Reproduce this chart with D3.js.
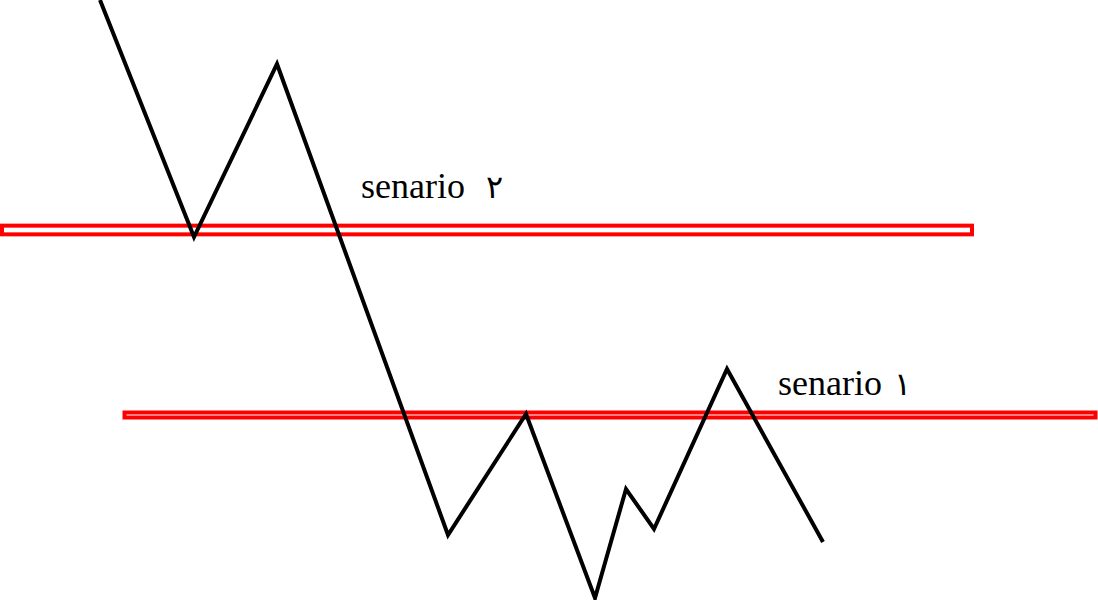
<!DOCTYPE html>
<html>
<head>
<meta charset="utf-8">
<script src="https://cdn.jsdelivr.net/npm/d3@7"></script>
<style>
  html, body { margin: 0; padding: 0; background: #fff; }
  svg { display: block; }
  .label { font-family: "Liberation Serif", "Times New Roman", serif; }
</style>
</head>
<body>
<svg id="chart" width="1098" height="600"></svg>
<script>
// ---- data ----
const pathX = [100, 194, 277, 448, 526, 595, 626, 654, 727, 823];
const pathY = [600, 363, 536, 65, 186, 2, 111, 71, 231, 58];

const levelNames = ["senario", "senario"];
const levelDigits = ["\u06F1", "\u06F2"];
const levelValues = [185, 370];
const levelStart = [124.5, 2];
const levelEnd = [1095.5, 972];
const levelThickness = [5, 8.7];
const labelX = [778, 361];
const labelLevel = [205, 402];

// ---- scales ----
const W = 1098, H = 600;
const x = d3.scaleLinear().domain([0, 1098]).range([0, W]);
const y = d3.scaleLinear().domain([0, 600]).range([H, 0]);

const svg = d3.select("#chart");

const levels = levelNames.map((n, i) => ({
  name: n, digit: levelDigits[i], v: levelValues[i], x0: levelStart[i], x1: levelEnd[i],
  t: levelThickness[i], lx: labelX[i], ly: labelLevel[i]
}));

svg.selectAll("rect.level")
  .data(levels)
  .enter().append("rect")
  .attr("class", "level")
  .attr("x", d => x(d.x0))
  .attr("y", d => y(d.v) - d.t / 2)
  .attr("width", d => x(d.x1) - x(d.x0))
  .attr("height", d => d.t)
  .attr("fill", "#fff")
  .attr("stroke", "#ff0000")
  .attr("stroke-width", 4);

const lbl = svg.selectAll("text.label")
  .data(levels)
  .enter().append("text")
  .attr("class", "label")
  .attr("x", d => x(d.lx))
  .attr("y", d => y(d.ly))
  .attr("font-size", 36)
  .attr("fill", "#000");
lbl.append("tspan").text(d => d.name);
lbl.append("tspan").attr("dx", (d, i) => i === 0 ? 12 : 21).attr("font-size", 32).text(d => d.digit);

// price path
const pts = pathX.map((px, i) => [px, pathY[i]]);
const line = d3.line().x(d => x(d[0])).y(d => y(d[1]));
svg.append("path")
  .datum(pts)
  .attr("d", line)
  .attr("fill", "none")
  .attr("stroke", "#000")
  .attr("stroke-width", 4)
  .attr("stroke-linejoin", "miter")
  .attr("stroke-miterlimit", 10);
</script>
</body>
</html>
